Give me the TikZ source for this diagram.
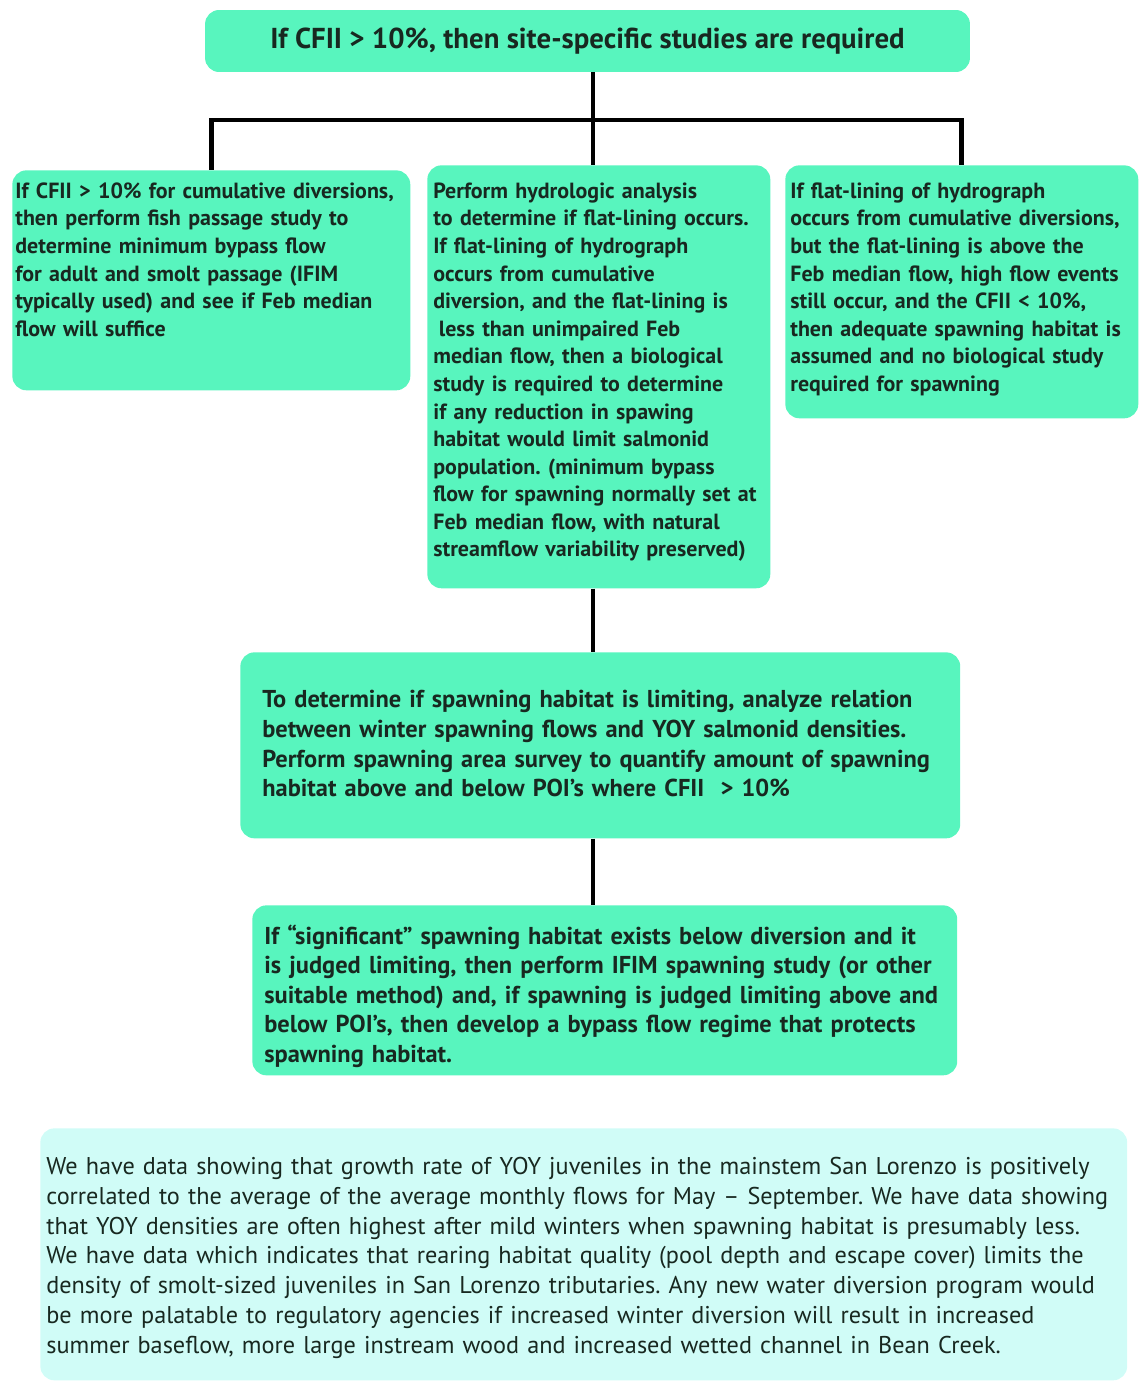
\documentclass[tikz,border=0pt]{standalone}
\usepackage{fontspec}
\setsansfont{PT Sans}
\usepackage{tikz}
\usetikzlibrary{positioning,calc}
\definecolor{mint}{RGB}{88,245,190}
\definecolor{paleaqua}{RGB}{208,252,247}
\definecolor{inkgreen}{RGB}{24,40,32}
\frenchspacing

\begin{document}
\begin{tikzpicture}[x=0.02cm, y=-0.02cm,
  font=\sffamily\bfseries, text=inkgreen,
  box/.style={fill=#1, rounded corners=8pt, anchor=north west, align=left, inner xsep=0.12cm, inner ysep=0.1cm},
  box/.default=mint,
  link/.style={line width=2.8pt, draw=black},
  fsmall/.style={font=\sffamily\bfseries\fontsize{12.5}{15.7}\selectfont},
  fwide/.style={font=\sffamily\bfseries\fontsize{13.9}{#1}\selectfont},
]
\useasboundingbox (0,0) rectangle (1141,1382);
% top decision
\node[box, anchor=center, align=center, minimum width=15.3cm, minimum height=1.24cm, font=\sffamily\bfseries\fontsize{16.4}{18}\selectfont] (top) at (587.5,41) {If CFII > 10\%, then site-specific studies are required};
% three branches
\node[box, fsmall, text width=7.84cm, text height=0.46cm, text depth=3.74cm, inner xsep=0.06cm] (lft) at (12,170) {If CFII > 10\% for cumulative diversions,\\then perform fish passage study to\\determine minimum bypass flow\\for adult and smolt passage (IFIM\\typically used) and see if Feb median\\flow will suffice};
\node[box, fsmall, text width=6.62cm, text height=0.56cm, text depth=7.7cm] (mid) at (427,165) {Perform hydrologic analysis\\to determine if flat-lining occurs.\\If flat-lining of hydrograph\\occurs from cumulative\\diversion, and the flat-lining is\\\hspace*{0.25em}less than unimpaired Feb\\median flow, then a biological\\study is required to determine\\if any reduction in spawing\\habitat would limit salmonid\\population. (minimum bypass\\flow for spawning normally set at\\Feb median flow, with natural\\streamflow variability preserved)};
\node[box, fsmall, text width=6.86cm, text height=0.56cm, text depth=4.3cm, inner xsep=0.1cm] (rgt) at (785,165) {If flat-lining of hydrograph\\occurs from cumulative diversions,\\but the flat-lining is above the\\Feb median flow, high flow events\\still occur, and the CFII < 10\%,\\then adequate spawning habitat is\\assumed and no biological study\\required for spawning};
% spawning steps
\node[box, fwide=17, text width=13.52cm, text height=1.0cm, text depth=2.52cm, inner xsep=0.44cm] (survey) at (240,652) {To determine if spawning habitat is limiting, analyze relation\\between winter spawning flows and YOY salmonid densities.\\Perform spawning area survey to quantify amount of spawning\\habitat above and below POI’s where CFII \ > 10\%};
\node[box, fwide=16.8, text width=13.62cm, text height=0.68cm, text depth=2.52cm, inner xsep=0.24cm] (ifim) at (252,905) {If “significant” spawning habitat exists below diversion and it\\is judged limiting, then perform IFIM spawning study (or other\\suitable method) and, if spawning is judged limiting above and\\below POI’s, then develop a bypass flow regime that protects\\spawning habitat.};
% notes
\node[box=paleaqua, font=\sffamily\fontsize{13.8}{17}\selectfont, text width=21.5cm, text height=0.82cm, text depth=4.02cm, inner xsep=0.12cm] (notes) at (40,1128) {We have data showing that growth rate of YOY juveniles in the mainstem San Lorenzo is positively\\correlated to the average of the average monthly flows for May – September. We have data showing\\that YOY densities are often highest after mild winters when spawning habitat is presumably less.\\We have data which indicates that rearing habitat quality (pool depth and escape cover) limits the\\density of smolt-sized juveniles in San Lorenzo tributaries. Any new water diversion program would\\be more palatable to regulatory agencies if increased winter diversion will result in increased\\summer baseflow, more large instream wood and increased wetted channel in Bean Creek.};
% connectors
\coordinate (bar) at (593,120);
\draw[link] (top.south -| bar) -- (bar |- mid.north);
\draw[link] (lft.north) |- (bar) -| (rgt.north);
\draw[link] (mid.south -| bar) -- (bar |- survey.north);
\draw[link] (survey.south -| bar) -- (bar |- ifim.north);
\end{tikzpicture}
\end{document}
